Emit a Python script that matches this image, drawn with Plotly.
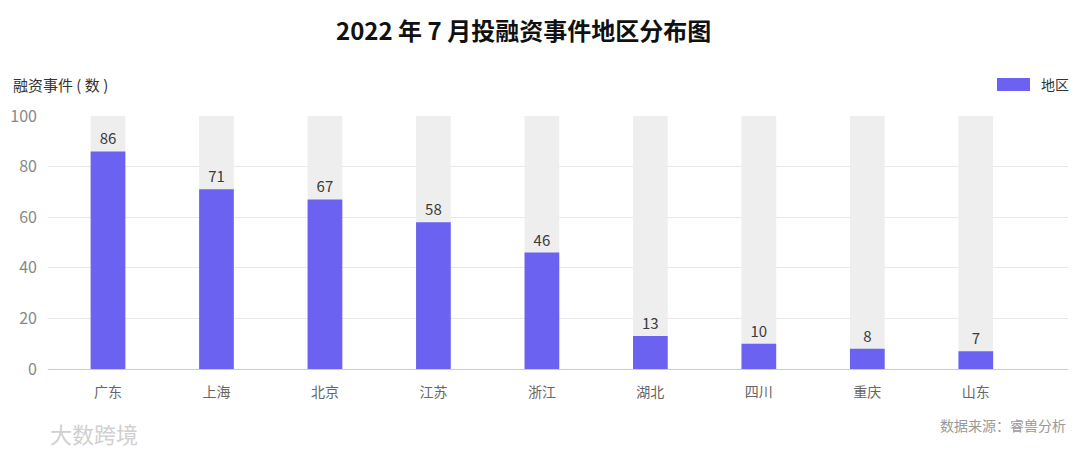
import plotly.graph_objects as go

regions = ["广东", "上海", "北京", "江苏", "浙江", "湖北", "四川", "重庆", "山东"]
counts = [86, 71, 67, 58, 46, 13, 10, 8, 7]
max_value = [100] * len(regions)

FONT = "Noto Sans CJK SC"
BAR = "#6b62f2"

# page has an 8px body margin, so the figure is drawn 8px smaller and offset
W, H = 1072, 446
L, R, T, B = 40, 12, 108, 85
PW, PH = W - L - R, H - T - B

def px(x):  # page x -> paper x
    return (x - 8 - L) / PW

def py(y):  # page y -> paper y
    return 1 - (y - 8 - T) / PH

fig = go.Figure()
fig.add_trace(go.Bar(
    x=regions, y=max_value, width=0.32, marker=dict(color="#eeeeee", line=dict(width=0)),
    showlegend=False, hoverinfo="skip"))
fig.add_trace(go.Bar(
    x=regions, y=counts, width=0.32, name="地区", showlegend=False,
    marker=dict(color=BAR, line=dict(width=0)),
    text=counts, textposition="outside", cliponaxis=False,
    textfont=dict(family=FONT, size=15, color="#3a3a3a")))

fig.update_layout(
    width=W, height=H,
    margin=dict(l=L, r=R, t=T, b=B),
    barmode="overlay",
    plot_bgcolor="white", paper_bgcolor="white",
    font=dict(family=FONT),
    showlegend=False,
)
fig.update_xaxes(range=[-0.553, 8.85], showline=True, linecolor="#cccccc", linewidth=1,
                 ticks="", tickfont=dict(size=14, color="#666666", family=FONT),
                 showgrid=False, ticklabelstandoff=10, automargin=False)
fig.update_yaxes(range=[0, 100], dtick=20, showgrid=True, gridcolor="#e8e8e8",
                 zeroline=False, tickfont=dict(size=16, color="#888888", family=FONT),
                 ticklabelstandoff=10, automargin=False)

fig.add_annotation(text="<b>2022 年 7 月投融资事件地区分布图</b>", xref="paper", yref="paper",
                   x=px(523), y=py(30), xanchor="center", yanchor="middle", showarrow=False,
                   font=dict(size=24, color="#111111", family=FONT))
fig.add_annotation(text="融资事件 ( 数 )", xref="paper", yref="paper", x=px(11), y=py(84),
                   xanchor="left", yanchor="middle", showarrow=False,
                   font=dict(size=15, color="#333333", family=FONT))
# legend drawn manually (wide swatch)
fig.add_shape(type="rect", xref="paper", yref="paper", x0=px(997), x1=px(1030),
              y0=py(91), y1=py(78), fillcolor=BAR, line=dict(width=0))
fig.add_annotation(text="地区", xref="paper", yref="paper", x=px(1039), y=py(84),
                   xanchor="left", yanchor="middle", showarrow=False,
                   font=dict(size=14, color="#333333", family=FONT))
fig.add_annotation(text="数据来源：睿兽分析", xref="paper", yref="paper", x=px(1068), y=py(425),
                   xanchor="right", yanchor="middle", showarrow=False,
                   font=dict(size=14, color="#999999", family=FONT))
fig.add_annotation(text="大数跨境", xref="paper", yref="paper", x=px(48), y=py(433),
                   xanchor="left", yanchor="middle", showarrow=False,
                   font=dict(size=22, color="#d0d0d0", family=FONT))

fig.write_html("out.html")
